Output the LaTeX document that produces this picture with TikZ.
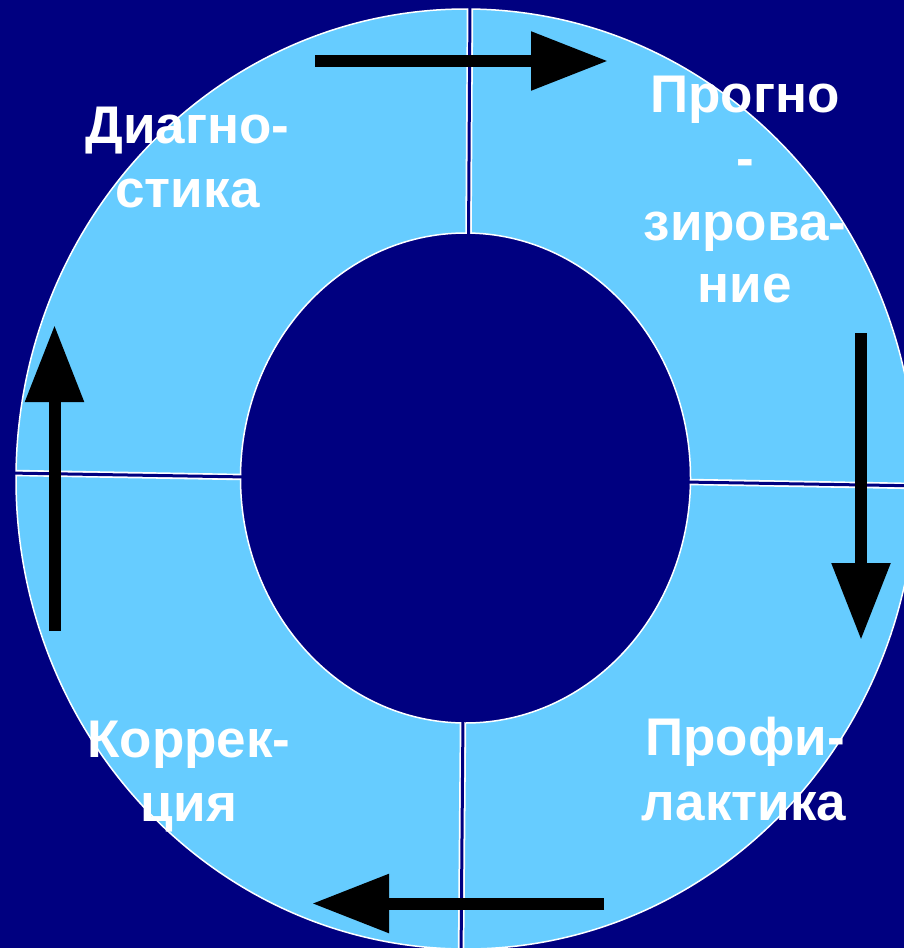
\documentclass[tikz,border=0pt]{standalone}
\usepackage{fontspec}
\setmainfont{Liberation Sans}
\usetikzlibrary{arrows.meta}
\definecolor{navybg}{HTML}{000080}
\definecolor{ringblue}{HTML}{66CCFF}
\begin{document}
\begin{tikzpicture}[x=0.5pt,y=-0.5pt,
  lbl/.style={text=white,font=\bfseries\fontsize{26.5}{32}\selectfont,anchor=base,inner sep=0pt},
  bigarrow/.style={black,line width=6pt,-{Triangle[length=38.5pt,width=28pt]}},
  gapwhite/.style={white,line width=3.25pt},
  gapnavy/.style={navybg,line width=1.5pt},
  rim/.style={white,line width=0.75pt}]
\fill[navybg] (0,0) rectangle (904,948);
\clip (0,0) rectangle (904,948);
% ring
\fill[ringblue,even odd rule] (466,479) ellipse [x radius=450,y radius=470]
                              (465.5,478) ellipse [x radius=225,y radius=245];
\draw[rim] (466,479) ellipse [x radius=450,y radius=470];
\draw[rim] (465.5,478) ellipse [x radius=225,y radius=245];
% gaps between segments
\coordinate (gti) at (468.5,233); \coordinate (gto) at (470,9);
\coordinate (gbi) at (463,723);   \coordinate (gbo) at (461,956);
\coordinate (gli) at (241,477);   \coordinate (glo) at (16,473);
\coordinate (gri) at (690,482);   \coordinate (gro) at (916,486);
\draw[gapwhite] (gti) -- (gto);
\draw[gapwhite] (gbi) -- (gbo);
\draw[gapwhite] (gli) -- (glo);
\draw[gapwhite] (gri) -- (gro);
\coordinate (nti) at (468.5,240); \coordinate (nto) at (470,2);
\coordinate (nbi) at (463,716);   \coordinate (nbo) at (461,960);
\coordinate (nli) at (248,477);   \coordinate (nlo) at (8,473);
\coordinate (nri) at (684,482);   \coordinate (nro) at (925,486);
\draw[gapnavy] (nti) -- (nto);
\draw[gapnavy] (nbi) -- (nbo);
\draw[gapnavy] (nli) -- (nlo);
\draw[gapnavy] (nri) -- (nro);
% arrows
\coordinate (ta) at (315,61);    \coordinate (tb) at (608,61);
\coordinate (ra) at (861,333);   \coordinate (rb) at (861,640);
\coordinate (ba) at (604,903.5); \coordinate (bb) at (312,903.5);
\coordinate (la) at (54.5,631);  \coordinate (lb) at (54.5,325);
\draw[bigarrow] (ta) -- (tb);
\draw[bigarrow] (ra) -- (rb);
\draw[bigarrow] (ba) -- (bb);
\draw[bigarrow] (la) -- (lb);
% labels
\node[lbl] (d1) at (187.5,143) {Диагно-};
\node[lbl] (d2) at (187.5,207) {стика};
\node[lbl] (p1) at (745,112) {Прогно};
\node[lbl] (p2) at (745,176) {-};
\node[lbl] (p3) at (745,240) {зирова-};
\node[lbl] (p4) at (745,302) {ние};
\node[lbl] (k1) at (189,757) {Коррек-};
\node[lbl] (k2) at (189,821) {ция};
\node[lbl] (f1) at (745,755) {Профи-};
\node[lbl] (f2) at (744,820) {лактика};
\end{tikzpicture}
\end{document}
